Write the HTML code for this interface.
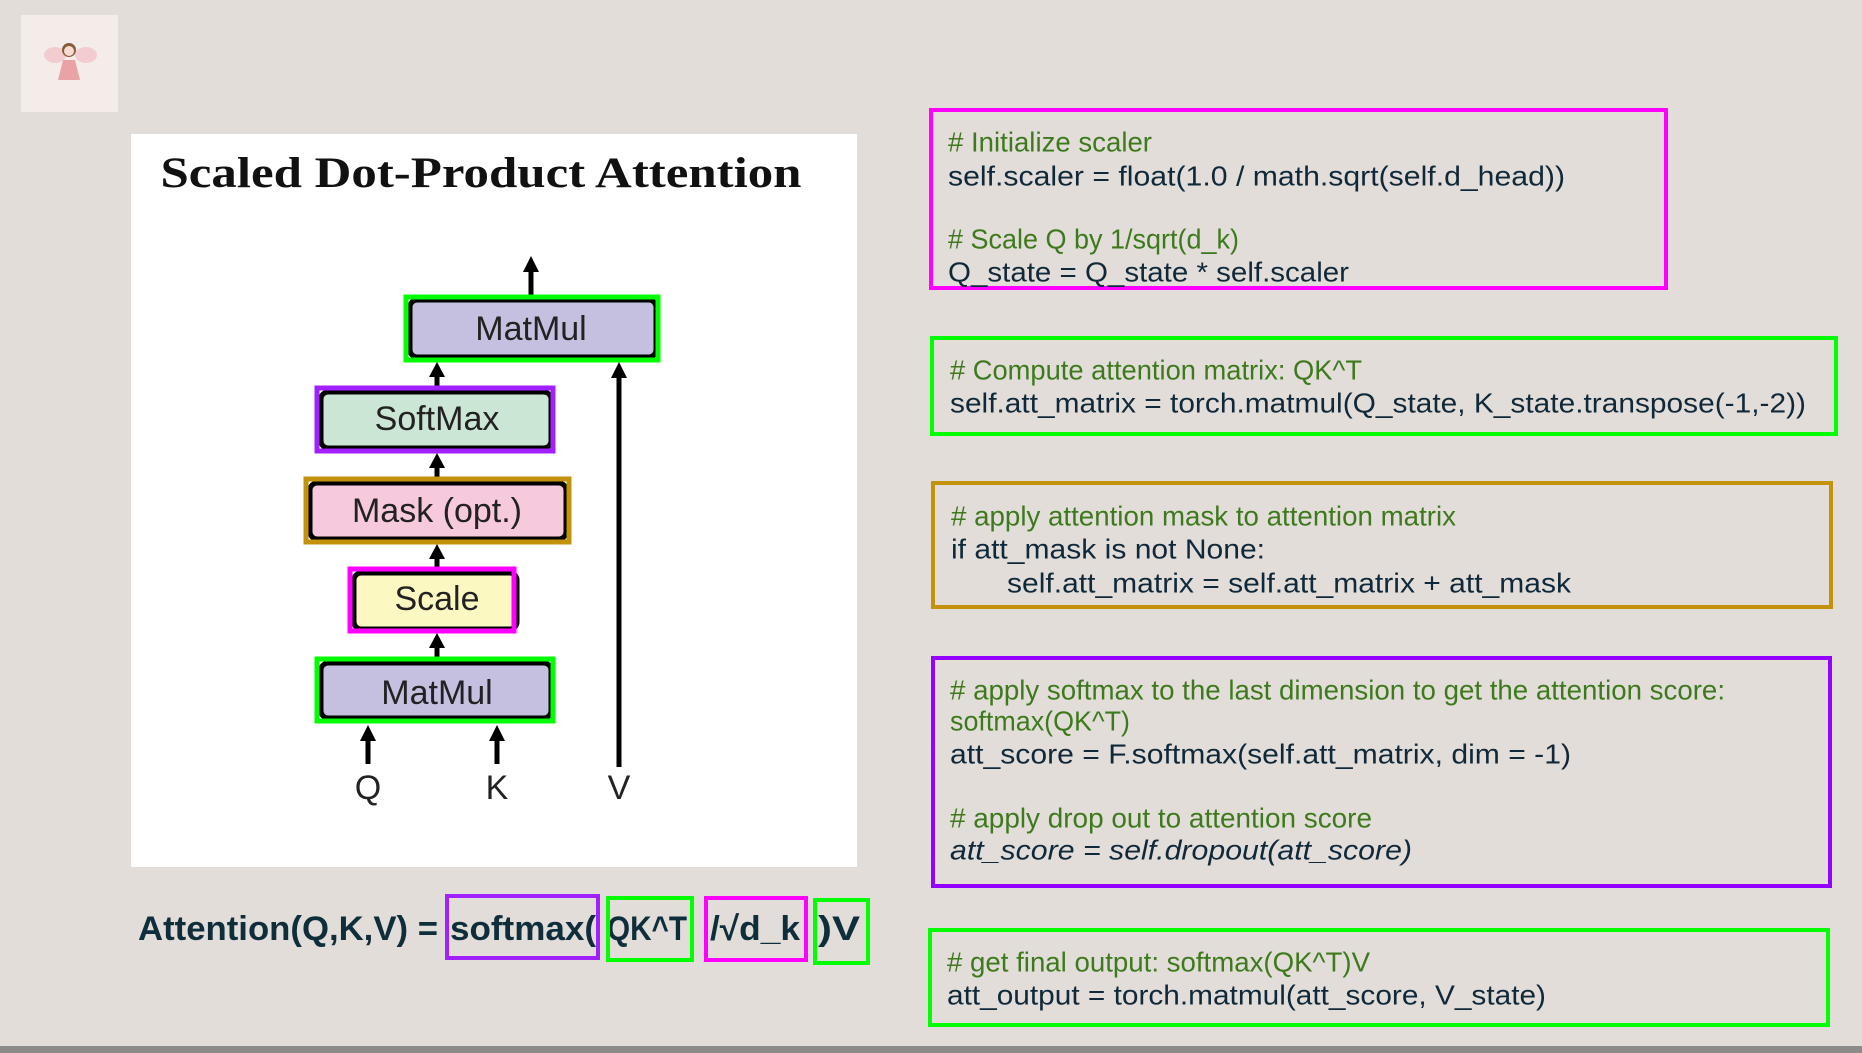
<!DOCTYPE html>
<html><head><meta charset="utf-8"><style>
html,body{margin:0;padding:0;background:#e2ddd9;}
svg{display:block}
.c{font-family:"Liberation Sans",sans-serif;font-size:28px;fill:#3d7a1c}
.k{font-family:"Liberation Sans",sans-serif;font-size:28px;fill:#10293a}
.d{font-family:"Liberation Sans",sans-serif;font-size:34px;fill:#222}
.f{font-family:"Liberation Sans",sans-serif;font-size:34px;font-weight:bold;fill:#0f2e3c}
</style></head><body>
<svg width="1862" height="1053" viewBox="0 0 1862 1053" xmlns="http://www.w3.org/2000/svg">
<rect width="1862" height="1053" fill="#e2ddd9"/>
<rect x="0" y="1046" width="1862" height="7" fill="#8d8b89"/>
<!-- thumbnail -->
<rect x="21" y="15" width="97" height="97" fill="#f3ece9"/>
<ellipse cx="55" cy="55" rx="11" ry="8" fill="#f2c4c8" opacity="0.8"/>
<ellipse cx="86" cy="55" rx="11" ry="8" fill="#f2c4c8" opacity="0.8"/>
<circle cx="69" cy="50" r="7" fill="#8a5a3a"/>
<circle cx="69" cy="51" r="5" fill="#f6dccf"/>
<path d="M63,60 L75,60 L80,80 L58,80 Z" fill="#e9a3a6"/>
<!-- white panel -->
<rect x="131" y="134" width="726" height="733" fill="#fff"/>
<text x="481" y="187" text-anchor="middle" font-family="Liberation Serif,serif" font-weight="bold" font-size="43" fill="#111" textLength="641" lengthAdjust="spacingAndGlyphs">Scaled Dot-Product Attention</text>
<g stroke="#000" stroke-width="5">
<line x1="531" y1="296" x2="531" y2="268"/>
<line x1="437" y1="386" x2="437" y2="374"/>
<line x1="437" y1="477" x2="437" y2="465"/>
<line x1="437" y1="568" x2="437" y2="556"/>
<line x1="437" y1="657" x2="437" y2="645"/>
<line x1="368" y1="764" x2="368" y2="738"/>
<line x1="497" y1="764" x2="497" y2="738"/>
<line x1="619" y1="767" x2="619" y2="376"/>
</g>
<g fill="#000">
<polygon points="531,256 523,272 539,272"/>
<polygon points="437,362 429,377 445,377"/>
<polygon points="437,453 429,468 445,468"/>
<polygon points="437,544 429,559 445,559"/>
<polygon points="437,633 429,648 445,648"/>
<polygon points="368,725 360,741 376,741"/>
<polygon points="497,725 489,741 505,741"/>
<polygon points="619,362 611,378 627,378"/>
</g>
<!-- boxes -->
<rect x="410" y="300" width="246" height="57" rx="7" fill="#c6c0e0" stroke="#000" stroke-width="5"/>
<rect x="406" y="297" width="252" height="63" fill="none" stroke="#00ff00" stroke-width="5"/>
<text x="531" y="329" class="d" text-anchor="middle" dominant-baseline="central">MatMul</text>
<rect x="321" y="392" width="230" height="56" rx="7" fill="#cbe6d4" stroke="#000" stroke-width="5"/>
<rect x="317" y="388" width="236" height="63" fill="none" stroke="#a020ff" stroke-width="5"/>
<text x="437" y="419" class="d" text-anchor="middle" dominant-baseline="central">SoftMax</text>
<rect x="310" y="483" width="256" height="56" rx="7" fill="#f6c9dc" stroke="#000" stroke-width="5"/>
<rect x="306" y="479" width="263" height="63" fill="none" stroke="#c3920a" stroke-width="5"/>
<text x="437" y="511" class="d" text-anchor="middle" dominant-baseline="central">Mask (opt.)</text>
<rect x="354" y="573" width="163" height="56" rx="7" fill="#fcf8c2" stroke="#000" stroke-width="5"/>
<rect x="350" y="569" width="164" height="62" fill="none" stroke="#ff00ff" stroke-width="5"/>
<text x="437" y="599" class="d" text-anchor="middle" dominant-baseline="central">Scale</text>
<rect x="321" y="663" width="230" height="55" rx="7" fill="#c6c0e0" stroke="#000" stroke-width="5"/>
<rect x="317" y="659" width="236" height="62" fill="none" stroke="#00ff00" stroke-width="5"/>
<text x="437" y="693" class="d" text-anchor="middle" dominant-baseline="central">MatMul</text>
<text x="368" y="788" class="d" font-size="38" text-anchor="middle" dominant-baseline="central">Q</text>
<text x="497" y="788" class="d" font-size="38" text-anchor="middle" dominant-baseline="central">K</text>
<text x="619" y="788" class="d" font-size="38" text-anchor="middle" dominant-baseline="central">V</text>
<!-- formula -->
<text x="138" y="940" class="f" textLength="300" lengthAdjust="spacingAndGlyphs">Attention(Q,K,V) =</text>
<text x="450" y="940" class="f" textLength="146" lengthAdjust="spacingAndGlyphs">softmax(</text>
<text x="607" y="940" class="f" textLength="80" lengthAdjust="spacingAndGlyphs">QK^T</text>
<text x="710" y="940" class="f" textLength="90" lengthAdjust="spacingAndGlyphs">/√d_k</text>
<text x="818" y="940" class="f" textLength="42" lengthAdjust="spacingAndGlyphs">)V</text>
<g fill="none" stroke-width="4">
<rect x="447" y="896" width="151" height="62" stroke="#a020ff"/>
<rect x="608" y="898" width="84" height="62" stroke="#00ff00"/>
<rect x="706" y="898" width="100" height="62" stroke="#ff00ff"/>
<rect x="815" y="900" width="53" height="63" stroke="#00ff00"/>
</g>
<!-- right code boxes -->
<g fill="none" stroke-width="4">
<rect x="931" y="110" width="735" height="178" stroke="#ff00ff"/>
<rect x="932" y="338" width="904" height="96" stroke="#00ff00"/>
<rect x="933" y="483" width="898" height="124" stroke="#c3920a"/>
<rect x="933" y="658" width="897" height="228" stroke="#9400ff"/>
<rect x="930" y="930" width="898" height="95" stroke="#00ff00"/>
</g>
<g dominant-baseline="central">
<text x="948" y="142" class="c" textLength="204" lengthAdjust="spacingAndGlyphs">#&#160;Initialize scaler</text>
<text x="948" y="176" class="k" textLength="617" lengthAdjust="spacingAndGlyphs">self.scaler = float(1.0 / math.sqrt(self.d_head))</text>
<text x="948" y="239" class="c" textLength="291" lengthAdjust="spacingAndGlyphs">#&#160;Scale Q by 1/sqrt(d_k)</text>
<text x="948" y="272" class="k" textLength="401" lengthAdjust="spacingAndGlyphs">Q_state = Q_state * self.scaler</text>
<text x="950" y="370" class="c" textLength="412" lengthAdjust="spacingAndGlyphs">#&#160;Compute attention matrix: QK^T</text>
<text x="950" y="403" class="k" textLength="856" lengthAdjust="spacingAndGlyphs">self.att_matrix = torch.matmul(Q_state, K_state.transpose(-1,-2))</text>
<text x="951" y="516" class="c" textLength="505" lengthAdjust="spacingAndGlyphs">#&#160;apply attention mask to attention matrix</text>
<text x="951" y="549" class="k" textLength="314" lengthAdjust="spacingAndGlyphs">if att_mask is not None:</text>
<text x="1007" y="583" class="k" textLength="564" lengthAdjust="spacingAndGlyphs">self.att_matrix = self.att_matrix + att_mask</text>
<text x="950" y="690" class="c" textLength="775" lengthAdjust="spacingAndGlyphs">#&#160;apply softmax to the last dimension to get the attention score:</text>
<text x="950" y="721" class="c" textLength="180" lengthAdjust="spacingAndGlyphs">softmax(QK^T)</text>
<text x="950" y="754" class="k" textLength="621" lengthAdjust="spacingAndGlyphs">att_score = F.softmax(self.att_matrix, dim = -1)</text>
<text x="950" y="818" class="c" textLength="422" lengthAdjust="spacingAndGlyphs">#&#160;apply drop out to attention score</text>
<text x="950" y="850" class="k" font-style="italic" textLength="462" lengthAdjust="spacingAndGlyphs">att_score = self.dropout(att_score)</text>
<text x="947" y="962" class="c" textLength="423" lengthAdjust="spacingAndGlyphs">#&#160;get final output: softmax(QK^T)V</text>
<text x="947" y="995" class="k" textLength="599" lengthAdjust="spacingAndGlyphs">att_output = torch.matmul(att_score, V_state)</text>
</g>
</svg>
</body></html>
